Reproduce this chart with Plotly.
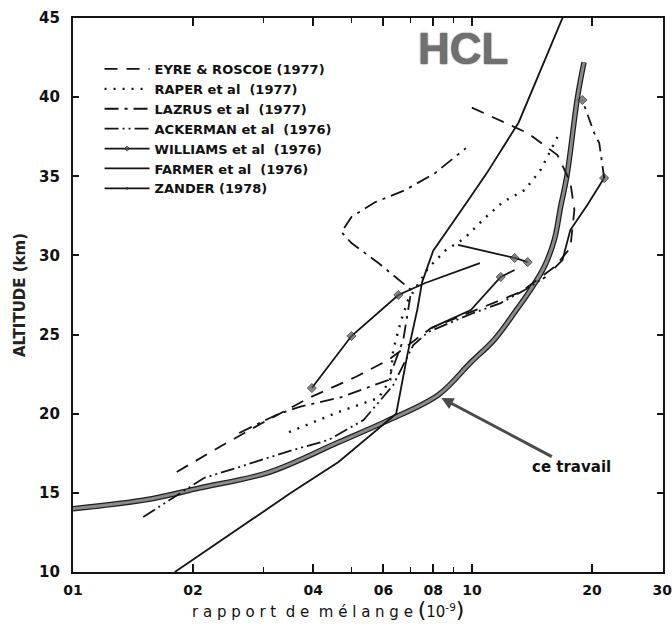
import math
import plotly.graph_objects as go

# HCl mixing-ratio profiles (10^-9) versus altitude (km)
ce_x = [0.100, 0.155, 0.207, 0.31, 0.463, 0.607, 0.825, 0.99, 1.14, 1.28, 1.40, 1.52, 1.61, 1.67, 1.73, 1.84, 1.91]
ce_y = [14.0, 14.6, 15.3, 16.3, 18.2, 19.5, 21.2, 23.2, 24.7, 26.4, 27.8, 29.3, 31.0, 33.1, 35.0, 40.0, 42.2]

eyre_x = [0.182, 0.233, 0.298, 0.390, 0.511, 0.617, 0.790, 0.994, 1.181, 1.325, 1.611, 1.765, 1.807, 1.765, 1.639, 1.380, 0.994]
eyre_y = [16.32, 17.90, 19.41, 20.99, 22.32, 23.39, 25.41, 26.42, 27.18, 27.69, 29.27, 30.47, 32.87, 34.64, 36.34, 37.73, 39.37]

raper_x = [0.348, 0.463, 0.583, 0.624, 0.635, 0.665, 0.692, 0.777, 0.861, 0.960, 1.077, 1.195, 1.356, 1.486, 1.639]
raper_y = [18.84, 20.11, 20.99, 22.13, 24.02, 25.92, 27.18, 29.20, 30.34, 31.10, 32.36, 33.37, 34.13, 35.39, 37.48]

lazrus_x = [0.261, 0.323, 0.368, 0.471, 0.617, 0.673, 0.705, 0.583, 0.499, 0.471, 0.499, 0.573, 0.681, 0.809, 0.966]
lazrus_y = [18.78, 19.92, 20.42, 21.05, 22.13, 24.66, 27.81, 29.52, 30.78, 31.48, 32.43, 33.37, 34.13, 35.21, 36.78]

ackerman_x = [0.150, 0.213, 0.261, 0.342, 0.437, 0.535, 0.635, 0.713, 0.777, 0.994, 1.181, 1.356, 1.530]
ackerman_y = [13.47, 15.94, 16.63, 17.58, 18.34, 19.60, 21.81, 24.34, 25.16, 26.30, 26.99, 27.81, 28.64]

williams_x = [0.397, 0.499, 0.654, 0.764, 1.047, None, 0.923, 1.280, 1.380]
williams_y = [21.62, 24.91, 27.50, 28.26, 29.52, None, 30.66, 29.84, 29.58]
williams_pts = [7, 7, 7, 0, 0, 0, 0, 7, 7]

farmer_x = [0.18, 0.352, 0.463, 0.617, 0.646, 0.69, 0.73, 0.75, 0.80, 0.98, 1.09, 1.31, 1.52, 1.70]
farmer_y = [10.0, 15.0, 16.95, 19.6, 20.0, 23.8, 26.6, 28.3, 30.3, 33.5, 35.2, 38.4, 42.3, 45.2]

zander_x = [0.790, 0.994, 1.181, 1.280, None, 1.611, 1.687, 1.765, 1.947, 2.146]
zander_y = [25.41, 26.55, 28.64, 29.08, None, 29.20, 29.71, 31.60, 33.18, 34.89]
zander_pts = [0, 0, 7, 0, 0, 0, 0, 0, 0, 7]
zander_top_x = [2.146, 2.086, 2.026, 1.925, 1.892]
zander_top_y = [34.89, 37.10, 37.73, 39.37, 39.82]

x_ticks = [0.1, 0.2, 0.4, 0.6, 0.8, 1.0, 2.0, 3.0]
x_ticklabels = ["01", "02", "04", "06", "08", "10", "20", "30"]
x_minor = [0.3, 0.5, 0.7, 0.9]
y_ticks = [10, 15, 20, 25, 30, 35, 40, 45]

arrow_target = (0.83, 21.05)

INK = "#141414"
LW = 1.8

fig = go.Figure()

# ce travail: thick grey band with dark edges
fig.add_trace(go.Scatter(x=ce_x, y=ce_y, mode="lines", line=dict(color="#1e1e1e", width=5.5, shape="spline"),
                         showlegend=False, hoverinfo="skip"))
fig.add_trace(go.Scatter(x=ce_x, y=ce_y, mode="lines", line=dict(color="#8a8a8a", width=3, shape="spline"),
                         showlegend=False, name="ce travail"))

fig.add_trace(go.Scatter(x=eyre_x, y=eyre_y, mode="lines", name="EYRE & ROSCOE (1977)",
                         line=dict(color=INK, width=LW, dash="13px,9px")))
fig.add_trace(go.Scatter(x=raper_x, y=raper_y, mode="lines", name="RAPER et al  (1977)",
                         line=dict(color=INK, width=2.4, dash="2px,7px")))
fig.add_trace(go.Scatter(x=lazrus_x, y=lazrus_y, mode="lines", name="LAZRUS et al  (1977)",
                         line=dict(color=INK, width=LW, dash="14px,6px,3px,6px")))
fig.add_trace(go.Scatter(x=ackerman_x, y=ackerman_y, mode="lines", name="ACKERMAN et al  (1976)",
                         line=dict(color=INK, width=LW, dash="14px,4px,2px,4px,2px,4px")))
fig.add_trace(go.Scatter(x=williams_x, y=williams_y, mode="lines+markers", name="WILLIAMS et al  (1976)",
                         line=dict(color=INK, width=LW), connectgaps=False,
                         marker=dict(size=williams_pts, color="#555", symbol="diamond",
                                     line=dict(color=INK, width=1))))
fig.add_trace(go.Scatter(x=farmer_x, y=farmer_y, mode="lines", name="FARMER et al  (1976)",
                         line=dict(color=INK, width=LW)))
fig.add_trace(go.Scatter(x=zander_x, y=zander_y, mode="lines+markers", name="ZANDER (1978)",
                         line=dict(color=INK, width=LW), connectgaps=False, legendgroup="zander",
                         marker=dict(size=zander_pts, color="#555", symbol="diamond",
                                     line=dict(color=INK, width=1))))
fig.add_trace(go.Scatter(x=zander_top_x, y=zander_top_y, mode="lines+markers", showlegend=False,
                         legendgroup="zander", line=dict(color=INK, width=LW, dash="12px,6px,3px,6px"),
                         marker=dict(size=[0, 0, 0, 0, 7], color="#555", symbol="diamond",
                                     line=dict(color=INK, width=1))))

fig.add_annotation(x=math.log10(arrow_target[0]), y=arrow_target[1], xref="x", yref="y",
                   text="<b>ce travail</b>", showarrow=True, ax=132, ay=70,
                   arrowhead=2, arrowsize=0.8, arrowwidth=3, arrowcolor="#4a4a4a",
                   font=dict(family="DejaVu Sans", size=15, color="#111"), standoff=2)

fig.add_annotation(x=0.661, y=0.993, xref="paper", yref="paper", xanchor="center", yanchor="top",
                   text="<b>HCL</b>", showarrow=False,
                   font=dict(family="Liberation Sans", size=44, color="#707070", shadow="0px 0px 1.5px #111"))

fig.add_annotation(x=0.432, y=-0.067, xref="paper", yref="paper", xanchor="center", yanchor="middle",
                   text="r a p p o r t  d e  m é l a n g e <span style='font-size:22px'>(</span>10<sup>-9</sup><span style='font-size:22px'>)</span>",
                   showarrow=False, font=dict(family="DejaVu Sans", size=15, color="#111"))

axis_common = dict(showline=True, linecolor=INK, linewidth=2.2, mirror="ticks", ticks="inside",
                   tickcolor=INK, tickwidth=1.5, showgrid=False, zeroline=False, automargin=False,
                   ticklabeloverflow="allow")

fig.update_xaxes(type="log", range=[math.log10(0.1), math.log10(3.0) + 0.002], tickvals=x_ticks,
                 ticktext=x_ticklabels, ticklen=8, ticklabelstandoff=4,
                 tickfont=dict(family="DejaVu Sans", size=14, color="#111", weight="bold"),
                 minor=dict(tickvals=x_minor, ticks="inside", ticklen=5, tickcolor=INK, tickwidth=1.2),
                 **axis_common)
fig.update_yaxes(range=[10, 45], tickvals=y_ticks, ticklen=6, ticklabelstandoff=8,
                 tickfont=dict(family="DejaVu Sans", size=15, color="#111", weight="bold"),
                 title=dict(text="<b>ALTITUDE (km)</b>", standoff=10,
                            font=dict(family="DejaVu Sans", size=15, color="#222")),
                 **axis_common)

fig.update_layout(
    width=672, height=637,
    margin=dict(l=73, r=9, t=18, b=65),
    paper_bgcolor="white", plot_bgcolor="white",
    legend=dict(x=0.045, y=0.935, xanchor="left", yanchor="top", bgcolor="rgba(0,0,0,0)",
                itemwidth=45, tracegroupgap=0,
                font=dict(family="DejaVu Sans", size=13, color="#111", weight="bold")),
)

fig.write_html("out.html")
